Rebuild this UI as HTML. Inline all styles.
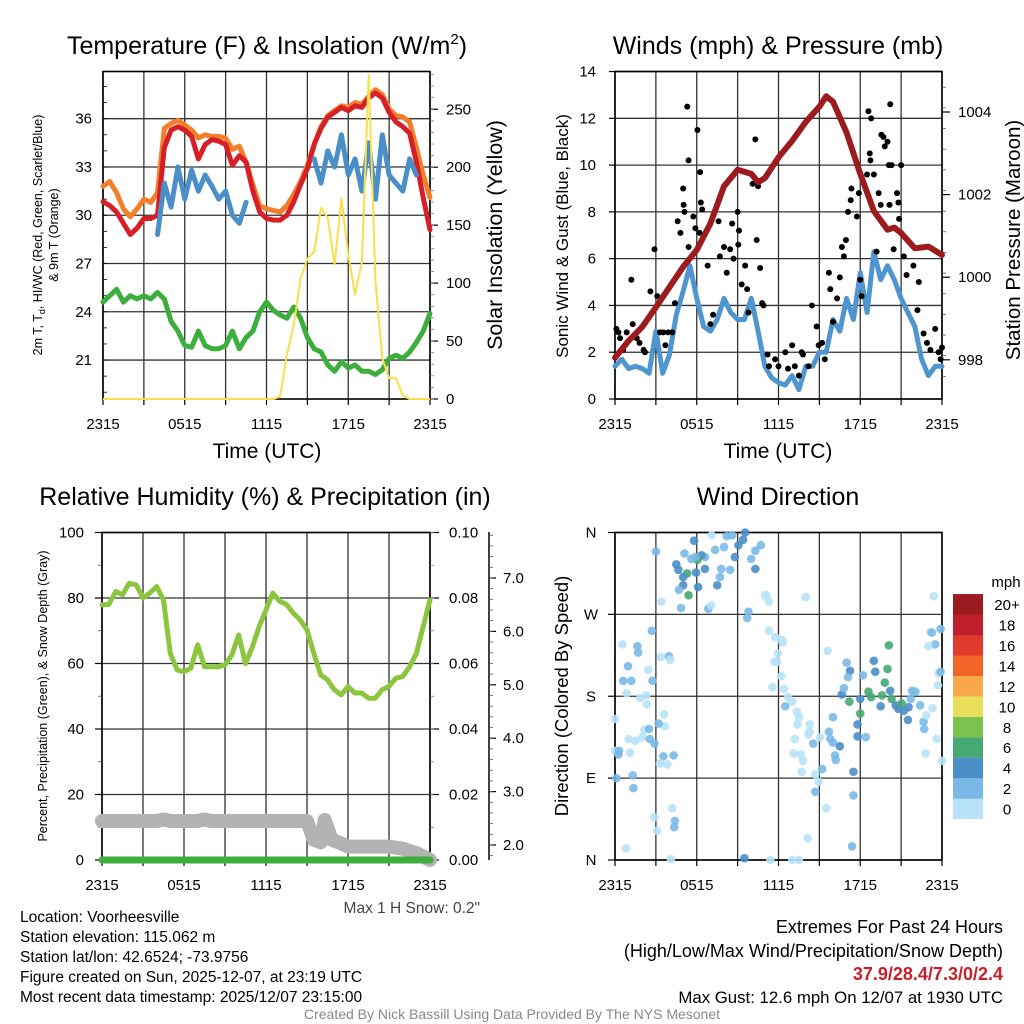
<!DOCTYPE html>
<html><head><meta charset="utf-8">
<style>
html,body{margin:0;padding:0;background:#fff;}
svg{display:block;font-family:"Liberation Sans",Arial,sans-serif;}
</style></head>
<body>
<svg id="chart" width="1024" height="1024" viewBox="0 0 1024 1024" xmlns="http://www.w3.org/2000/svg">
<g id="layer"></g>
</svg>
<script>
// ---------- DATA (half-hour steps from 2315 UTC) ----------
const xTickLabels = ["2315","0515","1115","1715","2315"];
const tempTicks = [21,24,27,30,33,36];
const solarTicks = [0,50,100,150,200,250];
const windTicks = [0,2,4,6,8,10,12,14];
const presTicks = [998,1000,1002,1004];
const rhTicks = [0,20,40,60,80,100];
const precipTicks = ["0.00","0.02","0.04","0.06","0.08","0.10"];
const snowTicks = [2.0,3.0,4.0,5.0,6.0,7.0];
const dirLabels = ["N","E","S","W","N"];
const speedBins = ["0","2","4","6","8","10","12","14","16","18","20+"];

const temp2m = [30.85,30.6,30.2,29.5,28.8,29.2,29.8,29.8,30.0,34.2,35.3,35.5,35.3,34.9,33.5,34.4,34.7,34.6,34.4,33.1,33.7,33.3,31.5,30.2,29.8,29.7,29.7,30.0,30.85,31.9,32.9,34.4,35.4,36.1,36.4,36.7,36.5,36.8,36.7,37.3,37.6,37.3,36.4,35.8,35.5,35.1,33.3,31.1,29.1];
const temp9m = [31.8,32.1,31.4,30.4,29.9,30.4,31.0,30.8,31.4,35.4,35.7,35.9,35.6,35.3,34.8,35.0,34.9,34.9,34.8,34.1,34.3,33.3,31.9,30.6,30.4,30.3,30.2,30.6,31.3,32.1,33.1,34.4,35.5,36.2,36.5,36.8,36.7,37.0,36.9,37.4,37.8,37.5,36.6,36.2,36.1,35.8,34.2,32.5,31.1];
const windChill = [29.8,null,28.6,null,null,null,27.3,null,28.8,32.0,30.5,33.0,31.0,32.8,31.5,32.5,31.8,31.0,31.5,30.0,29.5,30.8,null,null,null,null,null,null,null,null,null,33.5,32.0,34.0,33.0,35.0,32.5,33.5,31.5,34.5,31.0,35.0,32.5,32.0,31.5,33.5,32.5,null,null];
const dewpoint = [24.6,25.0,25.4,24.6,25.0,24.8,25.0,24.8,25.2,24.8,23.4,22.8,21.9,21.8,22.8,21.9,21.7,21.7,21.9,22.8,21.7,22.4,22.8,24.0,24.6,24.1,23.8,23.6,24.3,23.6,22.4,21.7,21.5,20.7,20.3,20.9,20.5,20.7,20.3,20.3,20.1,20.4,21.1,21.3,21.1,21.5,22.1,22.8,23.9];
const solar = [0,0,0,0,0,0,0,0,0,0,0,0,0,0,0,0,0,0,0,0,0,0,0,0,0,0,2,38,64,104,121,127,165,156,116,173,124,90,118,280,101,35,18,18,3,0,0,0,0];

const windSpeed = [1.4,1.7,1.3,1.4,1.3,1.1,2.9,1.1,1.9,3.6,4.6,5.7,4.3,3.1,2.9,3.4,4.3,3.7,3.4,3.4,4.3,2.9,1.4,0.9,0.7,0.6,1.0,0.4,1.4,1.4,2.0,2.0,3.4,2.9,4.3,3.4,5.4,3.7,6.3,5.1,5.7,5.1,4.3,3.7,3.1,1.7,1.0,1.4,1.4];
const pressureHours = [0,1,2,3,4,5,6,7,8,9,10,10.5,11,12,13,14,15,15.5,16,17,18,19,20,20.5,21,22,23,24];
const pressure = [998.05,998.46,998.8,999.27,999.76,1000.25,1000.66,1001.3,1002.2,1002.6,1002.5,1002.3,1002.4,1002.9,1003.3,1003.76,1004.13,1004.38,1004.25,1003.5,1002.5,1001.6,1001.15,1001.2,1001.07,1000.7,1000.74,1000.54];
const gustHours = [0.1,0.25,0.37,0.6,0.86,1.2,1.3,1.6,1.8,2.1,2.2,2.6,2.9,3.1,3.3,3.55,3.7,3.9,4.2,4.4,4.6,4.8,5.0,5.04,5.1,5.3,5.4,5.4,5.75,5.9,6.05,6.2,6.25,6.3,6.4,6.8,7.0,7.2,7.6,7.7,8.0,8.2,8.45,8.6,8.7,9.0,9.05,9.1,9.3,9.55,9.7,9.8,10.1,10.3,10.4,10.5,10.65,10.8,10.9,11.2,11.3,11.75,12.0,12.5,12.7,13.0,13.2,13.5,13.7,13.8,14.2,14.45,14.8,14.95,15.2,15.4,15.7,15.8,16.0,16.3,16.5,16.65,16.8,16.95,17.1,17.3,17.35,17.75,17.9,18.0,18.1,18.5,18.6,18.7,18.75,18.8,19.0,19.2,19.35,19.5,19.55,19.7,19.8,20.0,20.1,20.15,20.2,20.3,20.45,20.7,20.8,20.85,21.0,21.2,21.4,21.9,22.2,22.3,22.65,22.9,23.15,23.5,23.75,23.9,24.0];
const gusts = [3.0,2.85,2.6,2.1,2.85,5.1,3.2,2.6,2.4,2.1,2.0,4.6,6.4,4.4,2.85,2.85,2.3,2.85,2.85,4.1,7.6,7.1,9.0,8.3,8.0,12.5,10.2,6.5,7.8,7.3,11.5,7.1,9.7,8.4,8.1,5.7,3.2,3.6,7.6,6.1,6.5,5.4,6.4,7.5,6.0,8.0,6.6,7.2,4.9,5.7,4.7,3.7,9.2,11.1,6.8,9.1,5.6,4.1,4.0,1.9,1.4,1.7,1.4,2.0,1.3,2.3,1.4,1.0,2.0,1.9,1.4,4.0,3.1,2.3,2.4,1.7,5.4,4.7,3.3,4.3,5.2,6.5,6.1,6.8,8.0,8.5,9.0,7.8,8.8,5.1,4.4,9.6,12.3,10.5,10.2,12.0,9.6,6.3,8.8,8.3,11.3,11.2,10.8,11.0,10.0,8.3,12.6,10.0,6.4,8.8,8.4,7.7,10.0,6.1,5.3,5.7,3.8,5.0,2.8,2.4,2.1,3.0,2.0,1.7,2.2];

const rh = [77.9,78,82,81,84.5,84,80,81.5,83.5,79.4,63,58,57.5,58.6,65.7,59,59,59,59.6,62.6,68.7,60,65,71.3,76.4,81.5,79,78,75.4,73.3,70.3,63.1,56.5,55,52,50.4,53,51,51,49.4,49.4,52,53,55.5,56,59,63,71.3,79.4];
const precip = [0,0,0,0,0,0,0,0,0,0,0,0,0,0,0,0,0,0,0,0,0,0,0,0,0,0,0,0,0,0,0,0,0,0,0,0,0,0,0,0,0,0,0,0,0,0,0,0,0];
const snowHours = [0,4,4.5,5,7,7.5,8,15,15.5,16,16.3,16.8,17.5,18,21,22,23,24];
const snowDepth = [2.45,2.45,2.48,2.45,2.45,2.48,2.45,2.45,2.1,2.05,2.47,2.1,2.03,1.97,1.97,1.93,1.85,1.72];

const dirHours = [3.0,5.8,7.1,8.2,8.6,9.55,9.4,9.06,8.8,8.0,7.35,6.6,6.35,6.05,5.9,5.6,5.1,4.5,4.65,5.3,5.0,5.0,4.7,5.4,5.95,6.1,6.6,7.5,7.7,7.8,8.45,10.0,10.3,10.7,10.3,3.4,4.85,6.85,7.05,9.8,9.7,11.0,11.3,14.0,23.4,2.7,0.55,1.65,1.7,0.95,0.6,1.2,2.45,2.75,3.35,3.95,4.05,0.85,1.85,2.3,2.35,0,2.15,2.5,3.6,3.65,3.2,1.0,1.5,2.0,2.55,2.9,0,0.3,0.25,1.1,3.55,4.3,3.3,3.85,0.1,1.3,1.35,4.2,4.4,4.35,2.9,3.1,0.8,4.1,9.5,11.4,13.0,13.5,11.3,11.75,12.25,12.3,11.95,11.7,11.9,12.2,11.55,12.4,12.7,13.0,12.5,13.35,13.5,13.4,14.3,14.3,14.2,15.05,14.55,13.2,13.1,13.65,13.8,13.7,14.7,14.95,14.7,15.5,14.15,15.7,15.8,16.0,16.5,16.15,16.2,16.0,15.2,17.5,17.5,17.4,16.65,16.8,17.0,17.25,17.1,17.2,18.0,18.0,17.8,17.8,18.4,18.2,18.6,18.8,19.1,19.0,19.5,19.6,19.8,20.0,20.1,20.2,20.3,20.6,20.8,21.05,21.2,21.5,21.55,21.8,22.05,21.7,22.4,22.65,22.7,22.85,23.3,23.6,22.8,24,23.7,23.75,23.9,23.5,23.0,23.15,23.25,23.9,11.1,15.6];
const dirDeg = [339,351,357,356,357,360,352,346,333,344,341,333,335,330,333,331,337,325,319,315,311,302,297,291,316,300,320,302,311,320,319,331,340,346,320,284,277,276,280,273,266,291,284,289,290,252,237,235,228,213,197,197,209,197,223,224,220,183,178,181,171,155,143,144,160,147,150,133,131,135,133,128,120,120,116,118,114,115,106,105,90,93,79,57,43,36,47,32,13,1,2,0,0,0,252,245,242,239,227,218,218,202,190,188,179,174,169,163,157,149,149,141,138,135,128,133,117,116,109,97,94,86,75,57,24,141,133,129,125,115,110,157,100,97,71,15,182,189,217,208,201,174,177,161,149,136,135,203,185,179,207,219,169,181,195,210,236,186,177,170,166,172,164,154,168,186,185,177,170,152,144,159,167,133,117,109,192,205,207,237,235,251,250,254,291,230];
const dirSpeed = [3,5,1,3,3,5,5,5,5,3,3,3,5,7,3,3,3,5,5,7,5,5,3,7,5,5,5,5,3,3,3,3,3,3,5,1,3,3,1,3,3,1,1,1,1,3,1,3,3,3,3,3,1,3,1,3,1,1,1,1,1,1,1,3,1,1,3,1,1,1,3,3,1,3,3,1,3,3,1,1,3,3,3,1,3,3,1,1,1,1,5,1,1,1,1,1,1,1,1,1,1,1,1,1,1,1,3,1,1,1,1,1,1,1,3,1,1,1,1,1,1,1,3,1,1,3,3,3,5,3,3,3,3,5,3,3,5,3,3,5,3,7,5,7,5,5,3,3,7,7,5,5,5,7,7,7,7,5,7,5,5,7,5,5,5,3,3,3,3,3,3,1,1,1,1,1,1,1,3,3,1,1,3,3,1,1];

const speedColors = ["#b7e2f7","#7ab9e5","#4a8fc8","#46a872","#7cc24f","#e8e05a","#f8a848","#f26529","#e03a2c","#bf1e2d","#9b1b1e"];

// ---------- helpers ----------
const NS = "http://www.w3.org/2000/svg";
const layer = document.getElementById('layer');
function mk(tag, attrs, parent, text){
  const e = document.createElementNS(NS, tag);
  for (const k in attrs) e.setAttribute(k, attrs[k]);
  if (text !== undefined) e.textContent = text;
  (parent || layer).appendChild(e);
  return e;
}
function halfHours(n){ const a=[]; for(let i=0;i<n;i++) a.push(i*0.5); return a; }
function linePath(xs, ys, xf, yf){
  let d = "", pen = false;
  for (let i=0;i<xs.length;i++){
    if (ys[i]===null || ys[i]===undefined){ pen=false; continue; }
    const X = xf(xs[i]).toFixed(1), Y = yf(ys[i]).toFixed(1);
    d += (pen ? "L" : "M") + X + " " + Y + " ";
    pen = true;
  }
  return d;
}
function colorFor(s){ let i = Math.floor(s/2); if (i>10) i=10; if(i<0) i=0; return speedColors[i]; }

const P1 = {x0:103, x1:430, y0:71.5, y1:399};
const P2 = {x0:615, x1:942, y0:71.5, y1:399};
const P3 = {x0:102, x1:430, y0:532.5, y1:860};
const P4 = {x0:615, x1:942, y0:532.5, y1:860};
const hx = P => h => P.x0 + h*(P.x1-P.x0)/24;

const x1f = hx(P1), x2f = hx(P2), x3f = hx(P3), x4f = hx(P4);
const tY = t => 118.7 + (36 - t)*16.09;
const sY = w => 399 - w*1.159;
const wY = s => 399 - s*23.39;
const pY = p => 112 + (1004 - p)*41.3;
const rhY = r => 860 - r*3.275;
const prY = v => 860 - v*3275;
const snY = s => 845 - (s-2)*53.4;
const dY = d => 860 - d*(327.5/360);

function grid(P, yVals, yf, gname){
  const g = mk('g', {});
  
  
  for (let k=0;k<=8;k++){
    const X = P.x0 + k*(P.x1-P.x0)/8;
    mk('line',{x1:X,y1:P.y0,x2:X,y2:P.y1,stroke:'#333','stroke-width':1.3},g);
  }
  yVals.forEach(v=>{ const Y=yf(v); mk('line',{x1:P.x0,y1:Y,x2:P.x1,y2:Y,stroke:'#333','stroke-width':1.3},g); });
  mk('rect',{x:P.x0,y:P.y0,width:P.x1-P.x0,height:P.y1-P.y0,fill:'none',stroke:'#000','stroke-width':1.6},g);
  return g;
}
function xTicks(P, name){
  const g = mk('g', {});
  
  
  for (let k=0;k<=8;k++){
    const X = P.x0 + k*(P.x1-P.x0)/8;
    mk('line',{x1:X,y1:P.y1,x2:X,y2:P.y1+6,stroke:'#000','stroke-width':1.2},g);
  }
  xTickLabels.forEach((t,i)=>{
    const X = P.x0 + i*(P.x1-P.x0)/4;
    const e = mk('text',{x:X,y:P.y1+30,'font-size':15,'text-anchor':'middle',fill:'#000'},g,t);
    
    
  });
}
function label(x,y,txt,size,anchor,name,extra){
  const a = Object.assign({x:x,y:y,'font-size':size,'text-anchor':anchor||'start',fill:'#000'}, extra||{});
  const e = mk('text',a,layer,txt);
  
  
  return e;
}
function vlabel(x,y,txt,size,name,fill){
  const e = mk('text',{x:0,y:0,'font-size':size,'text-anchor':'middle',fill:fill||'#000',transform:`translate(${x},${y}) rotate(-90)`},layer,txt);
  
  
  return e;
}

// ================= PANEL 1 =================
grid(P1, tempTicks, tY, 'temp-grid');
xTicks(P1, 'temp-x-axis');
tempTicks.forEach(v=>{ label(92,tY(v)+5,String(v),15,'end','temp-tick-label'); });
for (let t=19;t<=38;t++){ mk('line',{x1:P1.x0,y1:tY(t),x2:P1.x0+4,y2:tY(t),stroke:'#000','stroke-width':0.8}); }
solarTicks.forEach(v=>{ label(446,sY(v)+5,String(v),15,'start','solar-tick-label'); mk('line',{x1:P1.x1,y1:sY(v),x2:P1.x1+8,y2:sY(v),stroke:'#000','stroke-width':1.2}); });
for (let w=0;w<=280;w+=10){ mk('line',{x1:P1.x1,y1:sY(w),x2:P1.x1+4,y2:sY(w),stroke:'#777','stroke-width':0.8}); }
const hh = halfHours(49);
let e;
e = mk('path',{d:linePath(hh,temp9m,x1f,tY),fill:'none',stroke:'#f47f2a','stroke-width':5,'stroke-linejoin':'round','stroke-linecap':'round'});
 
e = mk('path',{d:linePath(hh,temp2m,x1f,tY),fill:'none',stroke:'#d62028','stroke-width':5,'stroke-linejoin':'round','stroke-linecap':'round'});
 
e = mk('path',{d:linePath(hh,windChill,x1f,tY),fill:'none',stroke:'#4a8fc8','stroke-width':5,'stroke-linejoin':'round','stroke-linecap':'round'});
 
e = mk('path',{d:linePath(hh,dewpoint,x1f,tY),fill:'none',stroke:'#3cae3c','stroke-width':5,'stroke-linejoin':'round','stroke-linecap':'round'});
 
e = mk('path',{d:linePath(hh,solar,x1f,sY),fill:'none',stroke:'#f8e04a','stroke-width':2,'stroke-linejoin':'round'});
 
e = mk('text',{x:267,y:54,'font-size':25,'text-anchor':'middle',fill:'#000'});
e.innerHTML = 'Temperature (F) &amp; Insolation (W/m<tspan font-size="15" dy="-10">2</tspan><tspan dy="10">)</tspan>';
 
label(267,458,'Time (UTC)',21,'middle','temp-x-title');
e = mk('text',{x:0,y:0,'font-size':12.5,'text-anchor':'middle',transform:'translate(42,235) rotate(-90)'});
e.innerHTML = '2m T, T<tspan font-size="9" dy="3">d</tspan><tspan dy="-3">, HI/WC (Red, Green, Scarlet/Blue)</tspan>';
 
vlabel(58,235,'& 9m T (Orange)',12.5,'temp-y-title-2');
vlabel(502,235,'Solar Insolation (Yellow)',21.5,'solar-y-title');

// ================= PANEL 2 =================
grid(P2, windTicks, wY, 'wind-grid');
xTicks(P2, 'wind-x-axis');
windTicks.forEach(v=>{ label(596,wY(v)+5,String(v),15,'end','wind-tick-label'); mk('line',{x1:P2.x0-6,y1:wY(v),x2:P2.x0,y2:wY(v),stroke:'#000','stroke-width':1.2}); });
presTicks.forEach(v=>{ label(958,pY(v)+5,String(v),15,'start','pressure-tick-label'); mk('line',{x1:P2.x1,y1:pY(v),x2:P2.x1+8,y2:pY(v),stroke:'#000','stroke-width':1.2}); });
for (let p=997.6;p<=1004.8;p+=0.5){ mk('line',{x1:P2.x1,y1:pY(p),x2:P2.x1+4,y2:pY(p),stroke:'#555','stroke-width':0.8}); }
e = mk('path',{d:linePath(hh,windSpeed,x2f,wY),fill:'none',stroke:'#4f96d0','stroke-width':5,'stroke-linejoin':'round','stroke-linecap':'round'});
 
const gustG = mk('g',{});
 
gustHours.forEach((h,i)=>{
  const c = mk('circle',{cx:x2f(h),cy:wY(gusts[i]),r:3,fill:'#000'},gustG);
  
  
});
e = mk('path',{d:linePath(pressureHours,pressure,x2f,pY),fill:'none',stroke:'#9b1b1e','stroke-width':6,'stroke-linejoin':'round','stroke-linecap':'round'});
 
label(778,54,'Winds (mph) & Pressure (mb)',25,'middle','wind-title');
label(778,458,'Time (UTC)',21,'middle','wind-x-title');
vlabel(568,236,'Sonic Wind & Gust (Blue, Black)',17,'wind-y-title');
vlabel(1020,240,'Station Pressure (Maroon)',20.5,'pressure-y-title');

// ================= PANEL 3 =================
grid(P3, rhTicks, rhY, 'rh-grid');
xTicks(P3, 'rh-x-axis');
rhTicks.forEach(v=>{ label(84,rhY(v)+5,String(v),15,'end','rh-tick-label'); mk('line',{x1:P3.x0-7,y1:rhY(v),x2:P3.x0,y2:rhY(v),stroke:'#000','stroke-width':1.2}); });
for (let r=10;r<100;r+=20){ mk('line',{x1:P3.x0-4,y1:rhY(r),x2:P3.x0,y2:rhY(r),stroke:'#555','stroke-width':0.8}); }
precipTicks.forEach((t,i)=>{ const Y=prY(i*0.02); label(449,Y+5,t,15,'start','precip-tick-label'); mk('line',{x1:P3.x1,y1:Y,x2:P3.x1+9,y2:Y,stroke:'#000','stroke-width':1.2}); });
for (let v=0.01;v<0.1;v+=0.01){ mk('line',{x1:P3.x1,y1:prY(v),x2:P3.x1+4,y2:prY(v),stroke:'#777','stroke-width':0.8}); }
e = mk('line',{x1:489,y1:532,x2:489,y2:860,stroke:'#000','stroke-width':1.5});
 
snowTicks.forEach(v=>{ label(503,snY(v)+5,v.toFixed(1),15,'start','snow-tick-label'); mk('line',{x1:489,y1:snY(v),x2:496,y2:snY(v),stroke:'#000','stroke-width':1.2}); });
for (let s=1.8;s<7.9;s+=0.2){ mk('line',{x1:489,y1:snY(s),x2:493,y2:snY(s),stroke:'#555','stroke-width':0.8}); }
e = mk('path',{d:linePath(snowHours,snowDepth,x3f,snY),fill:'none',stroke:'#b3b3b3','stroke-width':14,'stroke-linejoin':'round','stroke-linecap':'round'});
 
e = mk('path',{d:linePath(hh,precip,x3f,prY),fill:'none',stroke:'#3fae3f','stroke-width':7,'stroke-linecap':'round'});
 
e = mk('path',{d:linePath(hh,rh,x3f,rhY),fill:'none',stroke:'#8cc63f','stroke-width':5,'stroke-linejoin':'round','stroke-linecap':'round'});
 
label(265,505,'Relative Humidity (%) & Precipitation (in)',25,'middle','rh-title');
vlabel(47,696,'Percent, Precipitation (Green), & Snow Depth (Gray)',12.5,'rh-y-title');
label(480,913,'Max 1 H Snow: 0.2"',15.5,'end','max-snow-note',{fill:'#444'});

// ================= PANEL 4 =================
grid(P4, [0,90,180,270,360], dY, 'direction-grid');
xTicks(P4, 'direction-x-axis');
dirLabels.forEach((t,i)=>{ const Y=dY(i*90); label(591,Y+5,t,15,'middle','direction-tick-label'); mk('line',{x1:P4.x0-7,y1:Y,x2:P4.x0,y2:Y,stroke:'#000','stroke-width':1.2}); });
const dirG = mk('g',{});
 
dirHours.forEach((h,i)=>{
  const c = mk('circle',{cx:x4f(h),cy:dY(dirDeg[i]),r:4.3,fill:colorFor(dirSpeed[i]),'fill-opacity':0.9},dirG);
  
  
});
label(778,505,'Wind Direction',25,'middle','direction-title');
vlabel(568,696,'Direction (Colored By Speed)',18.5,'direction-y-title');
const cb = mk('g',{});
 
speedBins.forEach((t,i)=>{
  const top = 819 - (i+1)*20.45;
  const r = mk('rect',{x:953,y:top,width:30,height:20.6,fill:speedColors[i]},cb);
  
  
  const tx = mk('text',{x:1007,y:top+16,'font-size':15,'text-anchor':'middle'},cb,t);
  
  
});
label(1006,587,'mph',15,'middle','colorbar-unit');

// ================= FOOTER TEXT =================
const info = ["Location: Voorheesville","Station elevation: 115.062 m","Station lat/lon: 42.6524; -73.9756","Figure created on Sun, 2025-12-07, at 23:19 UTC","Most recent data timestamp: 2025/12/07 23:15:00"];
info.forEach((t,i)=>{ label(20,922+i*20,t,15.5,'start','station-info-line'); });
label(1003,933,'Extremes For Past 24 Hours',18,'end','extremes-heading');
label(1003,957,'(High/Low/Max Wind/Precipitation/Snow Depth)',18,'end','extremes-subheading');
label(1003,980,'37.9/28.4/7.3/0/2.4',18,'end','extremes-values',{fill:'#c8202a','font-weight':'bold'});
label(1003,1003,'Max Gust: 12.6 mph On 12/07 at 1930 UTC',16.8,'end','max-gust');
label(512,1019,'Created By Nick Bassill Using Data Provided By The NYS Mesonet',14,'middle','credits',{fill:'#888'});
</script>
</body></html>
